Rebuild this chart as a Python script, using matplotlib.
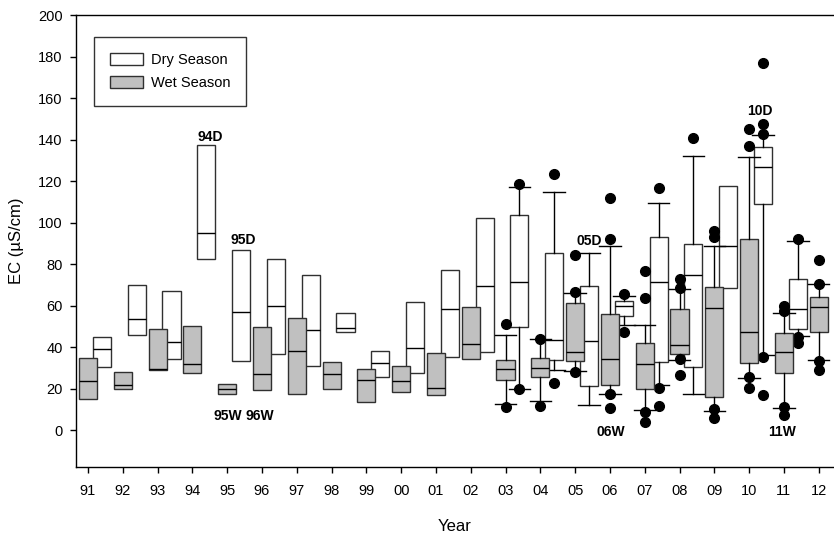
import matplotlib
matplotlib.use('Agg')
import matplotlib.pyplot as plt
from matplotlib.patches import Patch

plt.rcParams['font.family'] = ['Liberation Sans', 'DejaVu Sans']

years = ['91', '92', '93', '94', '95', '96', '97', '98', '99', '00', '01',
         '02', '03', '04', '05', '06', '07', '08', '09', '10', '11', '12']

# wet season: q1, median, q3 per year
wet_q1 = [15.0, 19.9, 28.9, 27.4, 17.6, 19.2, 17.4, 19.7, 13.6, 18.4, 17.1,
          34.4, 24.1, 25.7, 33.4, 21.8, 19.9, 36.7, 16.1, 32.3, 27.4, 47.1]
wet_med = [23.4, 21.6, 29.4, 31.8, 19.9, 27.1, 38.3, 27.1, 23.9, 23.7, 20.2,
           41.6, 29.4, 29.9, 37.6, 34.1, 32.0, 41.0, 58.9, 47.1, 37.6, 59.2]
wet_q3 = [34.7, 27.8, 48.8, 50.0, 22.4, 49.6, 54.2, 32.6, 29.2, 31.1, 37.1,
          59.2, 33.6, 34.7, 61.3, 56.0, 41.8, 58.1, 68.9, 92.3, 46.8, 64.1]
# whiskers (None = no whisker drawn)
wet_lo = [None] * 12 + [12.7, 14.2, 28.6, 17.3, 9.8, 33.9, 9.2, 25.0, 10.5, 33.6]
wet_hi = [None] * 12 + [45.7, 43.7, 66.2, 88.8, 50.5, 67.8, 88.8, 131.6, 56.2, 70.2]
wet_out = [[]] * 12 + [
    [51.3, 11.3],
    [43.9, 11.8],
    [84.3, 66.6, 28.2],
    [111.7, 92.0, 17.3, 10.5],
    [76.7, 63.5, 8.7, 4.0],
    [72.6, 68.6, 34.2, 26.6],
    [96.0, 92.8, 10.2, 5.6],
    [145.3, 136.9, 25.5, 20.5],
    [59.7, 57.3, 11.3, 7.3],
    [81.8, 70.5, 33.1, 29.1],
]

# dry season (no 2012 box)
dry_q1 = [30.2, 45.7, 34.1, 82.5, 33.1, 36.8, 31.1, 47.3, 25.7, 27.3, 35.0,
          37.6, 49.7, 33.9, 21.3, 54.9, 32.8, 30.4, 68.6, 109.0, 48.9]
dry_med = [39.1, 53.4, 42.3, 94.9, 57.1, 59.9, 48.3, 49.1, 32.1, 39.7, 58.3,
           69.4, 71.3, 43.4, 43.1, 59.7, 71.5, 74.7, 88.8, 126.7, 58.4]
dry_q3 = [45.0, 69.7, 67.2, 137.2, 86.8, 82.2, 74.9, 56.5, 38.3, 61.5, 77.0,
          102.0, 103.6, 85.5, 69.2, 62.1, 92.8, 89.9, 117.8, 136.4, 73.0]
dry_lo = [None] * 12 + [19.9, 28.9, 12.1, 50.8, 21.8, 17.3, None, 36.0, 45.2]
dry_hi = [None] * 12 + [117.3, 114.9, 85.2, 64.6, 109.3, 131.9, None, 142.0, 91.0]
dry_out = [[]] * 12 + [
    [118.6, 19.9],
    [123.6, 22.6],
    [],
    [65.7, 47.3],
    [116.7, 20.2, 11.8],
    [140.8],
    [],
    [176.8, 147.7, 142.9, 35.0, 16.9],
    [92.0, 44.7, 42.0],
]

labels = ['94D', '95D', '95W', '96W', '05D', '10D', '06W', '11W']
label_x = [3.51, 4.45, 4.02, 4.94, 14.40, 19.31, 15.03, 19.96]
label_y = [141.3, 91.6, 6.9, 6.9, 91.2, 153.7, -1.0, -1.0]


def make_stats(q1, med, q3, lo, hi, out):
    whisk, plain = [], []
    for i in range(len(q1)):
        d = {'q1': q1[i], 'med': med[i], 'q3': q3[i]}
        if lo[i] is None:
            d.update(whislo=q1[i], whishi=q3[i], fliers=[])
            plain.append((i, d))
        else:
            d.update(whislo=lo[i], whishi=hi[i], fliers=out[i])
            whisk.append((i, d))
    return whisk, plain


fig = plt.figure(figsize=(8.34, 5.38), dpi=100)
ax = fig.add_axes([0.0911, 0.132, 0.9089, 0.840])

offset = 0.4
bw = 0.52
line = dict(color='black', linewidth=1.0)
flier = dict(marker='o', markerfacecolor='black', markeredgecolor='black',
             markersize=7, linestyle='none')

# dry drawn first, wet boxes sit on top where they overlap
for (q1, med, q3, lo, hi, out, dx, fc, z) in [
        (dry_q1, dry_med, dry_q3, dry_lo, dry_hi, dry_out, offset, 'white', 3),
        (wet_q1, wet_med, wet_q3, wet_lo, wet_hi, wet_out, 0.0, '#c0c0c0', 4)]:
    whisk, plain = make_stats(q1, med, q3, lo, hi, out)
    box = dict(facecolor=fc, edgecolor='#303030', linewidth=1.0)
    if whisk:
        ax.bxp([d for _, d in whisk], positions=[i + dx for i, _ in whisk],
               widths=bw, capwidths=0.62, patch_artist=True, boxprops=box,
               medianprops=line, whiskerprops=line, capprops=line,
               flierprops=flier, manage_ticks=False, zorder=z)
    if plain:
        ax.bxp([d for _, d in plain], positions=[i + dx for i, _ in plain],
               widths=bw, patch_artist=True, boxprops=box,
               medianprops=line, showcaps=False, showfliers=False,
               whiskerprops=dict(linewidth=0), manage_ticks=False, zorder=z)

for t, x, y in zip(labels, label_x, label_y):
    ax.text(x, y, t, ha='center', va='center', fontsize=10, fontweight='bold')

ax.set_xlim(-0.345, 21.44)
ax.set_ylim(-17.8, 200)
ax.set_xticks(range(len(years)))
ax.set_xticklabels(years)
ax.set_yticks(range(0, 201, 20))
ax.tick_params(labelsize=10.5, length=4.5, width=1, direction='out')
ax.tick_params(axis='x', pad=8)
ax.tick_params(axis='y', pad=5)
ax.spines['right'].set_visible(False)
for s in ['left', 'top', 'bottom']:
    ax.spines[s].set_linewidth(1.0)

ax.set_xlabel('Year', fontsize=12, labelpad=15)
ax.set_ylabel('EC (\u00b5S/cm)', fontsize=12, labelpad=10)

handles = [Patch(facecolor='white', edgecolor='#303030', label='Dry Season'),
           Patch(facecolor='#c0c0c0', edgecolor='#303030', label='Wet Season')]
leg = ax.legend(handles=handles, loc='upper left', bbox_to_anchor=(0.0237, 0.951),
                borderaxespad=0, fontsize=10.5, fancybox=False, edgecolor='black',
                handlelength=2.25, handleheight=0.9, borderpad=1.1,
                labelspacing=0.6, handletextpad=0.55)
leg.get_frame().set_linewidth(1.0)

fig.savefig('out.png', dpi=100)
